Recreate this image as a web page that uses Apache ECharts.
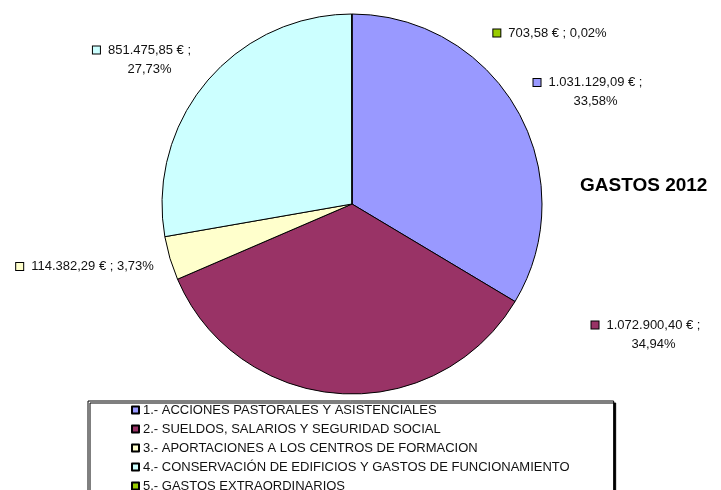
<!DOCTYPE html>
<html>
<head>
<meta charset="utf-8">
<script src="https://cdn.jsdelivr.net/npm/echarts@6/dist/echarts.min.js"></script>
<style>html,body{margin:0;padding:0;background:#fff;}#c{width:721px;height:490px;}</style>
</head>
<body>
<div id="c"></div>
<script>
// ---- data ----
const categories = [
  '1.- ACCIONES PASTORALES Y ASISTENCIALES',
  '2.- SUELDOS, SALARIOS Y SEGURIDAD SOCIAL',
  '3.- APORTACIONES A LOS CENTROS DE FORMACION',
  '4.- CONSERVACIÓN DE EDIFICIOS Y GASTOS DE FUNCIONAMIENTO',
  '5.- GASTOS EXTRAORDINARIOS'
];
const values = [1031129.09, 1072900.40, 114382.29, 851475.85, 703.58];
const titleText = 'GASTOS 2012';

// ---- style ----
const colors = ['#9999FF', '#993366', '#FFFFCC', '#CCFFFF', '#99CC00'];
// label block anchors (center x, middle y) and whether split on two lines
const labelAnchor = [[588, 92], [646, 334.5], [85, 266.5], [142, 59.5], [550, 33]];
const twoLine = [true, true, false, true, false];

function fmt(v) {
  const parts = v.toFixed(2).split('.');
  return parts[0].replace(/\B(?=(\d{3})+(?!\d))/g, '.') + ',' + parts[1];
}

const rich = {
  sp: { width: 7, height: 7 },
  gap: { width: 8 }
};
colors.forEach((c, i) => {
  rich['sq' + i] = { width: 7, height: 7, backgroundColor: c, borderColor: '#000', borderWidth: 1 };
});

const chart = echarts.init(document.getElementById('c'));
chart.setOption({
  animation: false,
  color: colors,
  title: {
    text: titleText,
    left: 575, top: 171,
    textStyle: { fontFamily: 'Liberation Sans, Arial', fontSize: 19, fontWeight: 'bold', color: '#000' }
  },
  legend: {
    orient: 'vertical',
    left: 88, top: 401,
    height: 200,
    padding: [2, 44, 10, 43],
    itemWidth: 7, itemHeight: 7,
    itemGap: 5,
    icon: 'rect',
    borderColor: '#000', borderWidth: 1,
    shadowColor: '#000', shadowOffsetX: 2, shadowOffsetY: 2, shadowBlur: 0,
    backgroundColor: '#fff',
    textStyle: { fontFamily: 'Liberation Sans, Arial', fontSize: 13, color: '#111', lineHeight: 14, padding: [0, 0, 0, -1] },
    data: categories
  },
  series: [{
    type: 'pie',
    center: [352, 204],
    radius: 190,
    startAngle: 90,
    clockwise: true,
    avoidLabelOverlap: false,
    itemStyle: { borderColor: '#000', borderWidth: 1 },
    emphasis: { disabled: true },
    labelLine: { show: false },
    label: {
      show: true,
      position: 'outside',
      fontFamily: 'Liberation Sans, Arial',
      fontSize: 13,
      color: '#111',
      lineHeight: 19,
      align: 'center',
      rich: rich,
      formatter: function (p) {
        const i = p.dataIndex;
        const pct = p.percent.toFixed(2).replace('.', ',') + '%';
        const v = fmt(p.value) + ' €';
        if (twoLine[i]) return '{sq' + i + '|}{gap|}' + v + ' ;\n{sp|}{gap|}' + pct;
        return '{sq' + i + '|}{gap|}' + v + ' ; ' + pct;
      }
    },
    labelLayout: function (p) {
      const a = labelAnchor[p.dataIndex];
      return { x: a[0], y: a[1], align: 'center', verticalAlign: 'middle' };
    },
    data: categories.map((n, i) => ({ name: n, value: values[i] }))
  }]
});
</script>
</body>
</html>
